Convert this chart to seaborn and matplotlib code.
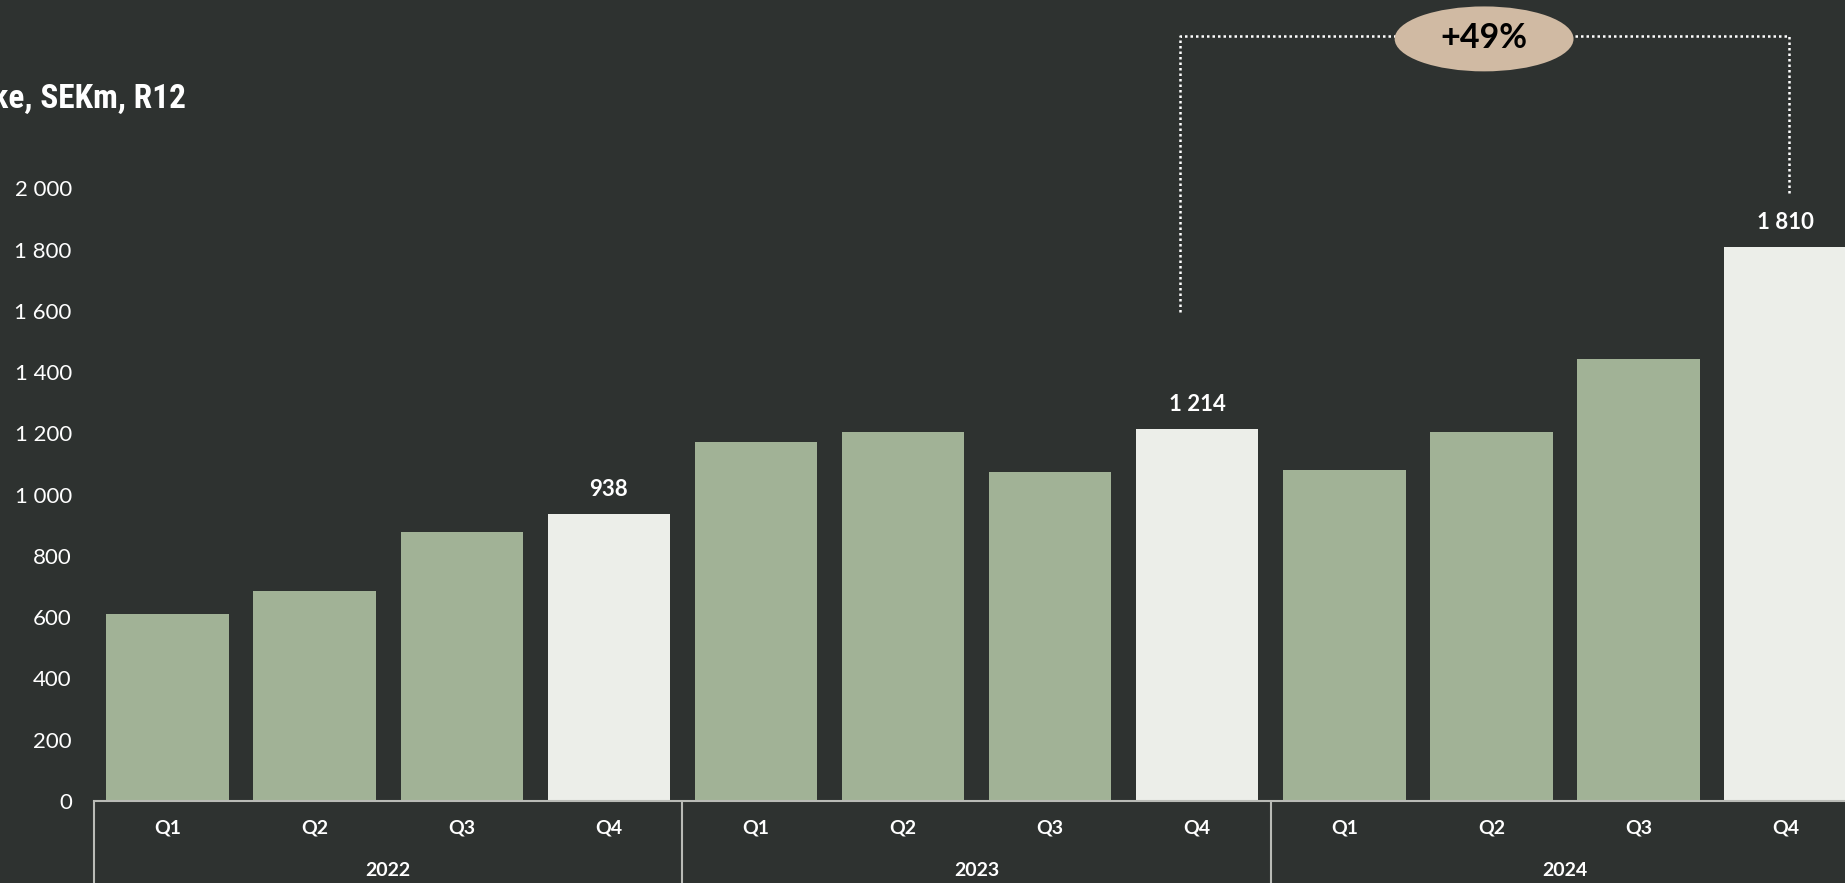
import matplotlib
matplotlib.use("Agg")
import matplotlib.pyplot as plt
import matplotlib.transforms as mtransforms
from matplotlib.patches import Ellipse
from matplotlib import font_manager
import pandas as pd
import seaborn as sns

# --- data -------------------------------------------------------------
years = ["2022", "2023", "2024"]
quarters = ["Q1", "Q2", "Q3", "Q4"]
order_intake = [612, 685, 877, 938,
                1173, 1204, 1073, 1214,
                1081, 1204, 1442, 1810]
y_ticks = [0, 200, 400, 600, 800, 1000, 1200, 1400, 1600, 1800, 2000]
growth_label = "+49%"
title_text = "Order intake, SEKm, R12"

# --- style ------------------------------------------------------------
BG = "#2e3230"
GREEN = "#a1b296"
LIGHT = "#eceee9"
SAND = "#d0baa3"
AXIS_GREY = "#b9bbb6"

sns.set_style("dark", {"axes.facecolor": BG, "figure.facecolor": BG})
plt.rcParams["font.family"] = ["Lato", "DejaVu Sans"]

installed = {f.name for f in font_manager.fontManager.ttflist}
narrow = [n for n in ["Roboto Condensed", "Liberation Sans Narrow",
                      "Open Sans Condensed"] if n in installed]
title_family = narrow[:1] + ["Roboto", "DejaVu Sans"]

periods = [f"{y} {q}" for y in years for q in quarters]
df = pd.DataFrame({
    "period": periods,
    "value": order_intake,
    "kind": ["year_end" if p.endswith("Q4") else "quarter" for p in periods],
})

W, H = 1845, 883
fig = plt.figure(figsize=(W / 100, H / 100), dpi=100)
fig.patch.set_facecolor(BG)

base_px = 801
ax_left_px = 94
ax_w_px = 147.1 * 12
ax = fig.add_axes([ax_left_px / W, (H - base_px) / H, ax_w_px / W, base_px / H])
ax.set_facecolor(BG)

sns.barplot(data=df, x="period", y="value", hue="kind", order=periods,
            palette={"quarter": GREEN, "year_end": LIGHT}, dodge=False,
            width=0.832, saturation=1, legend=False, ax=ax, zorder=2,
            linewidth=0, edgecolor="none")

ax.set_xlim(-0.5, len(periods) - 0.5)
ax.set_ylim(0, 2615)
ax.set_xlabel("")
ax.set_ylabel("")
ax.grid(False)

def fmt(v):
    return f"{v:,}".replace(",", " ")

ax.set_yticks(y_ticks)
ax.set_yticklabels([fmt(v) for v in y_ticks])
ax.tick_params(axis="y", length=0, pad=16, labelsize=16, labelcolor="white")

ax.set_xticks(range(len(periods)))
ax.set_xticklabels(quarters * len(years), fontweight="bold")
ax.tick_params(axis="x", length=0, pad=13.5, labelsize=14, labelcolor="white")

for side in ["left", "right", "top"]:
    ax.spines[side].set_visible(False)
ax.spines["bottom"].set_color(AXIS_GREY)
ax.spines["bottom"].set_linewidth(1.5)

# year group separators and labels below the axis
trans = mtransforms.blended_transform_factory(ax.transData, ax.transAxes)
bottom_frac = -(H - base_px) / base_px
for g in range(len(years) + 1):
    x = -0.5 + 4 * g
    ax.plot([x, x], [0, bottom_frac], transform=trans, color=AXIS_GREY,
            lw=1.5, clip_on=False, zorder=3)
for g, yr in enumerate(years):
    ax.text(1.5 + 4 * g, -(870 - base_px) / base_px, yr, transform=trans,
            ha="center", va="center", fontsize=14, fontweight="bold",
            color="white")

# value labels on year-end bars
for i, (p, v) in enumerate(zip(periods, order_intake)):
    if p.endswith("Q4"):
        ax.annotate(fmt(v), (i, v), xytext=(0, 17.5), textcoords="offset points",
                    ha="center", va="center", fontsize=16, fontweight="bold",
                    color="white")

# growth bracket between Q4 2023 and Q4 2024
i0 = periods.index("2023 Q4")
i1 = periods.index("2024 Q4")
xl, xr = i0 - 0.12, i1 + 0.02
top_y = 2496
dot = dict(color="white", lw=1.8, linestyle=(0, (1, 1.2)), clip_on=False, zorder=4)
ax.plot([xl, xl, xr, xr], [1596, top_y, top_y, 1981], **dot)
cx = (xl + xr) / 2
ax.add_patch(Ellipse((cx, 2488), width=1.216, height=212, facecolor=SAND,
                     edgecolor="none", zorder=5, clip_on=False))
ax.text(cx, 2490, growth_label, ha="center", va="center", fontsize=24.5,
        fontweight="bold", color="black", zorder=6)

# chart title (runs off the left edge)
fig.text(186 / W, 1 - 99 / H, title_text, ha="right", va="center",
         fontsize=24, fontweight="bold", color="white", family=title_family)

fig.savefig("out.png", dpi=100, facecolor=BG)
